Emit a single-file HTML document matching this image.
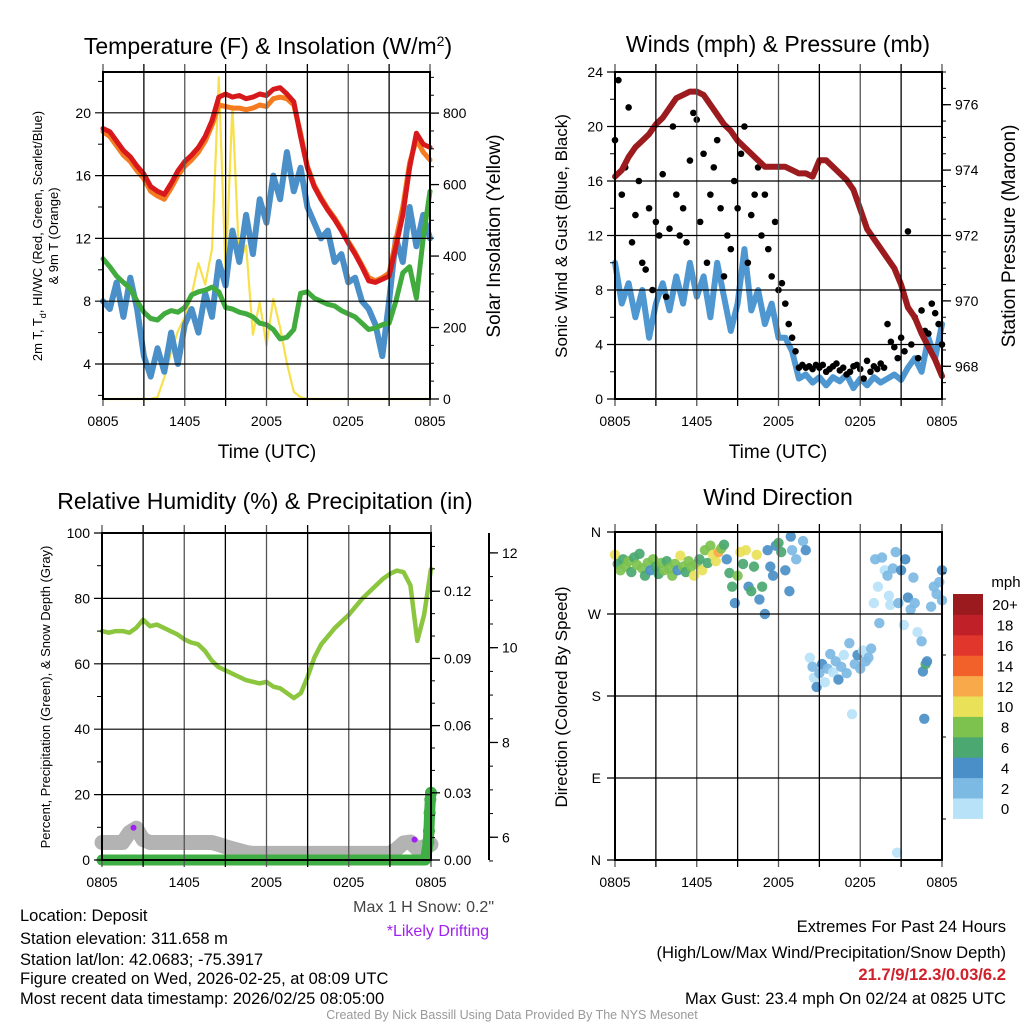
<!DOCTYPE html>
<html><head><meta charset="utf-8">
<style>
html,body{margin:0;padding:0;background:#fff;}
svg{display:block;font-family:"Liberation Sans",Arial,sans-serif;}
</style></head>
<body>
<svg id="chart" width="1024" height="1024" viewBox="0 0 1024 1024" xmlns="http://www.w3.org/2000/svg">
<rect width="1024" height="1024" fill="#fff"/>
<g id="layer"></g>
<!-- titles -->
<text x="268" y="54" font-size="23" text-anchor="middle">Temperature (F) &amp; Insolation (W/m<tspan dy="-8" font-size="14">2</tspan><tspan dy="8">)</tspan></text>
<text x="778" y="52" font-size="23" text-anchor="middle">Winds (mph) &amp; Pressure (mb)</text>
<text x="265" y="509" font-size="23" text-anchor="middle">Relative Humidity (%) &amp; Precipitation (in)</text>
<text x="778" y="505" font-size="23" text-anchor="middle">Wind Direction</text>
<!-- axis titles -->
<text x="267" y="458" font-size="19" text-anchor="middle">Time (UTC)</text>
<text x="778" y="458" font-size="19" text-anchor="middle">Time (UTC)</text>
<text transform="translate(42,236) rotate(-90)" font-size="13" text-anchor="middle">2m T, T<tspan dy="4" font-size="9">d</tspan><tspan dy="-4">, HI/WC (Red, Green, Scarlet/Blue)</tspan></text>
<text transform="translate(58,236) rotate(-90)" font-size="13" text-anchor="middle">&amp; 9m T (Orange)</text>
<text transform="translate(500,236) rotate(-90)" font-size="19" text-anchor="middle">Solar Insolation (Yellow)</text>
<text transform="translate(567,236) rotate(-90)" font-size="17" text-anchor="middle">Sonic Wind &amp; Gust (Blue, Black)</text>
<text transform="translate(1015,236) rotate(-90)" font-size="19" text-anchor="middle">Station Pressure (Maroon)</text>
<text transform="translate(50,697) rotate(-90)" font-size="13" text-anchor="middle">Percent, Precipitation (Green), &amp; Snow Depth (Gray)</text>
<text transform="translate(567,697) rotate(-90)" font-size="17" text-anchor="middle">Direction (Colored By Speed)</text>
<!-- footer -->
<g font-size="16.5">
<text x="20" y="921">Location: Deposit</text>
<text x="20" y="944">Station elevation: 311.658 m</text>
<text x="20" y="965">Station lat/lon: 42.0683; -75.3917</text>
<text x="20" y="984">Figure created on Wed, 2026-02-25, at 08:09 UTC</text>
<text x="20" y="1004">Most recent data timestamp: 2026/02/25 08:05:00</text>
</g>
<text x="494" y="912" font-size="16" fill="#444" text-anchor="end">Max 1 H Snow: 0.2"</text>
<text x="489" y="936" font-size="16" fill="#a020f0" text-anchor="end">*Likely Drifting</text>
<g font-size="16.6" text-anchor="end">
<text x="1006" y="932">Extremes For Past 24 Hours</text>
<text x="1006" y="958">(High/Low/Max Wind/Precipitation/Snow Depth)</text>
<text x="1006" y="980" fill="#d0202a" font-weight="bold">21.7/9/12.3/0.03/6.2</text>
<text x="1006" y="1004">Max Gust: 23.4 mph On 02/24 at 0825 UTC</text>
</g>
<text x="512" y="1019" font-size="12.5" fill="#999" text-anchor="middle">Created By Nick Bassill Using Data Provided By The NYS Mesonet</text>
</svg>
<script>
// ---- data (half-hour steps, hour 0 = 0805 UTC) ----
const xTickLabels = ["0805","1405","2005","0205","0805"];
const tempRed = [19,18.8,18.2,17.6,17.2,16.6,16.1,15.3,15.0,14.8,15.5,16.3,16.9,17.3,17.8,18.5,19.5,21.0,21.2,21.0,21.1,20.9,21.0,21.2,21.1,21.5,21.6,21.2,20.7,18.5,16.5,15.3,14.5,13.8,13.2,12.5,11.7,11.0,10.2,9.3,9.2,9.4,9.6,11.5,13.5,16.5,18.7,18.0,17.8];
const temp9m = [18.8,18.5,17.9,17.3,16.9,16.3,15.8,15.0,14.7,14.5,15.2,16.0,16.6,17.0,17.5,18.2,19.2,20.5,20.4,20.3,20.3,20.2,20.3,20.5,20.4,20.9,21.0,20.9,20.5,18.7,16.6,15.4,14.6,13.9,13.3,12.6,11.8,11.1,10.3,9.5,9.3,9.5,9.8,11.9,14.0,16.8,18.3,17.5,17.0];
const dewGreen = [10.7,10.2,9.6,9.2,8.8,8.0,7.3,6.9,6.8,7.2,7.4,7.3,7.6,8.4,8.6,8.7,8.9,8.6,7.6,7.5,7.3,7.2,7.0,6.6,6.5,6.2,5.6,5.7,6.2,8.5,8.6,8.2,8.0,7.8,7.7,7.4,7.2,7.0,6.6,6.2,6.3,6.5,6.6,8.0,9.8,10.2,8.2,12.0,15.0];
const chillBlue = [8,7.5,9.2,7,9.5,7.5,4.5,3.2,5,3.5,6,4,6.5,7.5,6,8.5,7,10.5,9,12.5,10.5,13.5,11,14.5,13,16,14.5,17.5,15,16.5,14,13,12,12.5,10.5,11,9.2,9.5,8,7.5,6.5,4.5,8,12,10.5,14,11.5,13.5,12];
const insolation = [0,0,0,0,0,0,0,0,5,60,130,190,230,290,380,320,420,900,350,820,380,430,180,270,150,280,200,100,20,5,0,0,0,0,0,0,0,0,0,0,0,0,0,0,0,0,0,0,0];
const tempTicks = [4,8,12,16,20];
const insTicks = [0,200,400,600,800];
const sonicWind = [10,7,8.5,6,8,4.5,7,8.5,6.5,9,7,10,7.5,9,6,10,7.5,5,7,11,6.5,8,5.5,7,4.5,4.5,3.5,1.5,1.8,1.2,1.6,1.0,1.6,1.3,1.8,0.8,1.5,1.0,1.6,1.2,1.5,1.8,1.4,2.3,3.0,2.0,4.5,3.0,5.5];
const gustQuarter = [19,23.4,15,17,21.4,11.5,13.5,16,10,9.5,14,8,13,12,16.5,7.5,12.5,20,15,12,14,11.5,17.5,21,20.5,13,18,10,15,17,19,14,9,12,11,16,14,18,20,10,13.5,15,17,12,15,11,9,13,8,8.5,7,5.5,4.5,3.5,2.3,2.5,2.3,2.4,2.2,2.5,2.3,2.5,2.0,2.2,2.4,2.6,2.1,2.3,1.8,2.0,2.4,2.5,2.2,1.5,2.8,2.0,2.4,2.2,2.6,2.3,5.5,4.2,3.8,3.0,4.5,3.5,12.3,4.0,6.0,3.0,6.5,5.0,4.8,7.0,6.3,5.5,4.0];
const pressure = [973.8,974.0,974.4,974.7,974.9,975.1,975.4,975.6,975.9,976.2,976.3,976.4,976.4,976.3,976.0,975.7,975.4,975.2,974.9,974.7,974.5,974.3,974.1,974.1,974.1,974.1,974.0,973.9,973.9,973.8,974.3,974.3,974.1,973.9,973.7,973.4,972.8,972.2,971.9,971.6,971.3,971.0,970.5,969.8,969.5,969.0,968.6,968.2,967.7];
const windTicks = [0,4,8,12,16,20,24];
const presTicks = [968,970,972,974,976];
const relHum = [70,69.5,70,70,69.5,71,73.5,71.5,72,71,70,69,67.5,66.5,66,64,61,59,58,57,56,55,54.5,54,54.5,53,52.5,51,49.5,51,56,62,66,68.5,71,73,75,77.5,80,82,84,86,87.5,88.5,88,84,67,75,89];
const snowDepth = [5.89,5.89,5.89,5.89,6.1,6.19,5.95,5.89,5.89,5.89,5.89,5.89,5.89,5.89,5.89,5.89,5.89,5.85,5.8,5.76,5.72,5.68,5.66,5.66,5.66,5.66,5.66,5.66,5.66,5.66,5.66,5.66,5.66,5.66,5.66,5.66,5.66,5.66,5.66,5.66,5.66,5.66,5.66,5.75,5.88,5.9,5.75,5.8,5.85];
const precipHour = [0,4,8,12,16,20,23.6,23.8,23.85,23.9,23.95,24];
const precipVal = [0,0,0,0,0,0,0,0.008,0.013,0.021,0.027,0.03];
const driftHour = [2.3,22.8];
const driftVal = [6.2,5.95];
const rhTicks = [0,20,40,60,80,100];
const pcpTicks = [0,0.03,0.06,0.09,0.12];
const snowTicks = [6,8,10,12];
const dirHour = [0,0.2,0.4,0.6,0.8,1.0,1.2,1.4,1.6,1.8,2.0,2.2,2.4,2.6,2.8,3.0,3.2,3.4,3.6,3.8,4.0,4.2,4.4,4.6,4.8,5.0,5.2,5.4,5.6,5.8,6.0,6.2,6.4,6.6,6.8,7.0,7.2,7.4,7.6,7.8,8.0,8.2,8.4,8.6,8.8,9.0,9.2,9.4,9.6,9.8,10.0,10.2,10.4,10.6,10.8,11.0,11.2,11.4,11.6,11.8,12.0,12.2,12.5,12.8,12.9,13.0,13.3,13.8,14.0,14.3,14.5,14.6,14.8,15.0,15.2,15.4,15.6,15.8,16.0,16.2,16.4,16.6,16.8,17.0,17.2,17.4,17.6,17.8,18.0,18.2,18.4,18.6,18.8,19.0,19.1,19.3,19.4,19.6,19.8,20.0,20.1,20.2,20.4,20.6,20.7,20.8,21.0,21.2,21.3,21.5,21.7,21.9,22.0,22.2,22.5,22.6,22.7,22.8,22.9,23.2,23.4,23.6,23.8,24.0,24.0];
const dirDeg = [335,325,318,330,322,328,316,332,324,336,320,312,326,318,330,322,314,326,318,328,320,312,325,318,334,322,316,328,322,312,325,330,318,340,326,345,335,328,338,342,346,330,315,300,282,312,338,325,340,300,295,322,335,286,300,270,340,322,312,345,348,338,318,295,355,340,330,350,340,222,212,200,190,205,215,195,210,226,206,218,198,212,225,205,238,160,215,225,210,230,218,222,232,282,330,300,260,332,318,312,290,280,320,338,8,282,318,258,330,288,275,310,282,250,240,207,155,215,218,278,300,292,305,318,285];
const dirSpd = [10,7,8,6,8,8,7,6,8,6,8,6,8,4,8,7,6,9,8,6,8,8,8,4,10,8,6,8,9,10,8,6,10,8,7,8,10,10,12,8,6,4,6,6,4,8,10,6,11,4,6,7,10,4,6,4,5,4,4,5,6,6,4,4,4,2,2,2,4,0,2,0,4,2,4,0,2,2,0,2,4,2,0,2,2,0,2,4,2,0,2,2,2,0,2,0,2,2,0,2,0,0,2,2,0,2,4,0,4,4,2,2,2,0,2,4,4,6,4,2,2,2,2,4,2];
const speedColors = ["#b7e2f7","#7cb9e3","#4a8fc7","#4aa870","#7dc24f","#e9e158","#f8a94a","#f26129","#e0362c","#c02027","#9b1a1e"];
const speedLabels = ["0","2","4","6","8","10","12","14","16","18","20+"];
const dirTickLabels = ["N","E","S","W","N"];
const dirTicks = [0,90,180,270,360];

// ---- helpers ----
const NS = "http://www.w3.org/2000/svg";
const layer = document.getElementById('layer');
function mk(tag, attrs, parent){ const e=document.createElementNS(NS,tag); for(const k in attrs) e.setAttribute(k,attrs[k]); (parent||layer).appendChild(e); return e; }
function lin(d0,d1,r0,r1){ return v => r0 + (v-d0)/(d1-d0)*(r1-r0); }
function halfHours(n){ const a=[]; for(let i=0;i<n;i++) a.push(i*0.5); return a; }

function frame(P, name){
  const g = mk('g',{});
  
  
  for(let h=0; h<=24; h+=3){
    const x=P.sx(h);
    mk('line',{x1:x,x2:x,y1:P.y0-8,y2:P.y1+7,stroke:(h%6===0?'#555':'#000'),'stroke-width':1.3},g);
  }
  return g;
}
function hgrid(g,P,ticks,sy){
  ticks.forEach(t=>{ const y=sy(t); mk('line',{x1:P.x0-8,x2:P.x1,y1:y,y2:y,stroke:'#000','stroke-width':1.2},g); });
}
function border(g,P){ mk('rect',{x:P.x0,y:P.y0,width:P.x1-P.x0,height:P.y1-P.y0,fill:'none',stroke:'#000','stroke-width':2},g); }
function xLabels(g,P){
  xTickLabels.forEach((l,i)=>{ const t=mk('text',{x:P.sx(i*6),y:P.y1+27,'font-size':14,'text-anchor':'middle'},g); t.textContent=l; });
}
function polyline(xs,ys,P,sy,color,w,name){
  const pts = xs.map((h,i)=>P.sx(h).toFixed(1)+','+sy(ys[i]).toFixed(1)).join(' ');
  const el = mk('polyline',{points:pts,fill:'none',stroke:color,'stroke-width':w,'stroke-linejoin':'round','stroke-linecap':'round'});
  
  
  return el;
}
function leftLabels(g,P,ticks,sy,fmt){
  ticks.forEach(t=>{ const e=mk('text',{x:P.x0-12,y:sy(t)+5,'font-size':14,'text-anchor':'end'},g); e.textContent=fmt?fmt(t):t; });
}
function rightAxis(g,P,ticks,sy,x,fmt,minorStep,lo,hi){
  mk('line',{x1:x,x2:x,y1:P.y0,y2:P.y1,stroke:'#000','stroke-width':2},g);
  for(let v=lo; v<=hi+1e-9; v+=minorStep){ const y=sy(v); if(y>=P.y0-1&&y<=P.y1+1) mk('line',{x1:x,x2:x+4,y1:y,y2:y,stroke:'#000','stroke-width':1},g); }
  ticks.forEach(t=>{ const y=sy(t); mk('line',{x1:x,x2:x+9,y1:y,y2:y,stroke:'#000','stroke-width':1.3},g);
    const e=mk('text',{x:x+13,y:y+5,'font-size':14},g); e.textContent=fmt?fmt(t):t; });
}

// ---- Panel 1: temperature ----
(function(){
  const P={x0:103,x1:430,y0:72,y1:399}; P.sx=lin(0,24,P.x0,P.x1);
  const sy=lin(1.77,22.6,P.y1,P.y0), sIns=lin(0,915,P.y1,P.y0);
  const g=frame(P,'temperature-grid'); hgrid(g,P,tempTicks,sy);
  for(let v=2; v<=22; v+=4){ const y=sy(v); mk('line',{x1:P.x0-5,x2:P.x0,y1:y,y2:y,stroke:'#000'},g); }
  leftLabels(g,P,tempTicks,sy); xLabels(g,P);
  rightAxis(g,P,insTicks,sIns,P.x1,null,50,0,900);
  const H=halfHours(49);
  polyline(H,insolation,P,sIns,'#f7e04b',2.2,'insolation-line');
  polyline(H,chillBlue,P,sy,'#4a8fc7',6,'wind-chill-line');
  polyline(H,dewGreen,P,sy,'#41ab3e',5,'dewpoint-line');
  polyline(H,temp9m,P,sy,'#f47b20',5,'temp-9m-line');
  polyline(H,tempRed,P,sy,'#d7191c',5,'temp-2m-line');
  border(g,P); layer.appendChild(g);
})();

// ---- Panel 2: winds & pressure ----
(function(){
  const P={x0:615,x1:942,y0:72,y1:399}; P.sx=lin(0,24,P.x0,P.x1);
  const sy=lin(0,24,P.y1,P.y0), sp=lin(967,977,P.y1,P.y0);
  const g=frame(P,'winds-grid'); hgrid(g,P,windTicks,sy);
  for(let v=2; v<=22; v+=4){ const y=sy(v); mk('line',{x1:P.x0-5,x2:P.x0,y1:y,y2:y,stroke:'#000'},g); }
  leftLabels(g,P,windTicks,sy); xLabels(g,P);
  rightAxis(g,P,presTicks,sp,P.x1,null,0.5,967,977);
  const H=halfHours(49);
  polyline(H,sonicWind,P,sy,'#4e97d1',6,'sonic-wind-line');
  gustQuarter.forEach((v,i)=>{
    const c=mk('circle',{cx:P.sx(i*0.25),cy:sy(v),r:3.3,fill:'#000'});
    
    
  });
  polyline(H,pressure,P,sp,'#9b1b1e',6,'pressure-line');
  border(g,P); layer.appendChild(g);
})();

// ---- Panel 3: RH & precip ----
(function(){
  const P={x0:102,x1:431,y0:533,y1:860}; P.sx=lin(0,24,P.x0,P.x1);
  const sy=lin(0,100,P.y1,P.y0), spc=lin(0,0.146,P.y1,P.y0), ssn=lin(5.52,12.42,P.y1,P.y0);
  const g=frame(P,'humidity-grid'); hgrid(g,P,rhTicks,sy);
  for(let v=10; v<=90; v+=20){ const y=sy(v); mk('line',{x1:P.x0-5,x2:P.x0,y1:y,y2:y,stroke:'#000'},g); }
  leftLabels(g,P,rhTicks,sy); xLabels(g,P);
  rightAxis(g,P,pcpTicks,spc,P.x1,t=>t.toFixed(2),0.01,0,0.14);
  rightAxis(g,P,snowTicks,ssn,489,null,0.5,5.5,12.4);
  const H=halfHours(49);
  polyline(H,snowDepth,P,ssn,'#b3b3b3',15,'snow-depth-line');
  polyline(H,relHum,P,sy,'#8cc63f',4.5,'relative-humidity-line');
  polyline(precipHour,precipVal,P,spc,'#3fae45',11,'precipitation-line');
  precipVal.forEach((v,i)=>{ if(v>0){
    const c=mk('circle',{cx:P.sx(precipHour[i]),cy:spc(v),r:6,fill:'#3fae45'});
    
    
  }});
  driftHour.forEach((h,i)=>{
    const c=mk('circle',{cx:P.sx(h),cy:ssn(driftVal[i]),r:3,fill:'#a020f0'});
    
    
  });
  border(g,P); layer.appendChild(g);
})();

// ---- Panel 4: wind direction ----
(function(){
  const P={x0:615,x1:942,y0:532,y1:860}; P.sx=lin(0,24,P.x0,P.x1);
  const sy=lin(0,360,P.y1,P.y0);
  const g=frame(P,'direction-grid'); hgrid(g,P,dirTicks,sy);
  dirTicks.forEach((t,i)=>{ const e=mk('text',{x:P.x0-14,y:sy(t)+5,'font-size':14,'text-anchor':'end'},g); e.textContent=dirTickLabels[i]; });
  xLabels(g,P);
  mk('line',{x1:P.x1,x2:P.x1,y1:P.y0,y2:P.y1,stroke:'#000','stroke-width':2},g);
  for(let v=45; v<360; v+=90){ const y=sy(v); mk('line',{x1:P.x1,x2:P.x1+4,y1:y,y2:y,stroke:'#000'},g); }
  dirDeg.forEach((d,i)=>{
    const idx=Math.min(10,Math.floor(dirSpd[i]/2));
    const c=mk('circle',{cx:P.sx(dirHour[i]),cy:sy(d),r:5.2,fill:speedColors[idx],'fill-opacity':0.92});
    
    
  });
  border(g,P); layer.appendChild(g);
  const cb=mk('g',{});
  
  
  const bh=20.4, top=594;
  speedColors.forEach((c,i)=>{
    const y=top+(10-i)*bh;
    mk('rect',{x:953,y:y,width:30,height:bh+0.5,fill:c},cb);
    const t=mk('text',{x:1005,y:y+bh/2+6,'font-size':15,'text-anchor':'middle'},cb); t.textContent=speedLabels[i];
  });
  const m=mk('text',{x:1006,y:587,'font-size':15,'text-anchor':'middle'},cb); m.textContent='mph';
})();
</script>
</body></html>
